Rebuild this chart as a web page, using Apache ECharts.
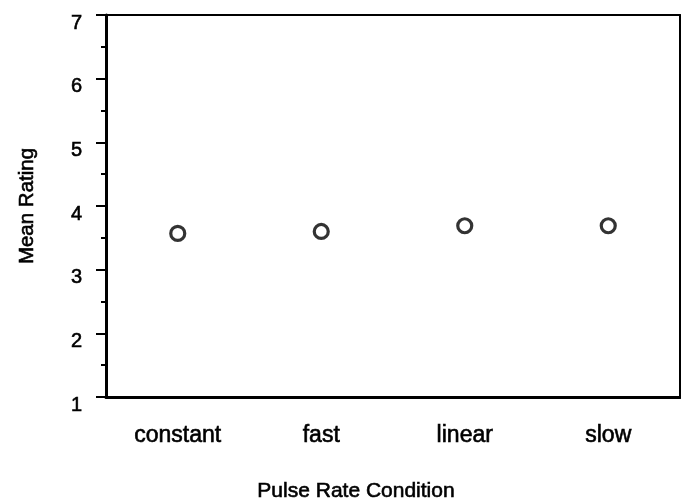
<!DOCTYPE html>
<html>
<head>
<meta charset="utf-8">
<script src="https://cdn.jsdelivr.net/npm/echarts@6/dist/echarts.min.js"></script>
<style>
  html, body { margin: 0; padding: 0; background: #fff; }
  #chart { width: 681px; height: 498px; }
</style>
</head>
<body>
<div id="chart"></div>
<script>
var conditions = ["constant", "fast", "linear", "slow"];
var meanRating = [3.57, 3.60, 3.69, 3.69];
var yTicks = [1, 2, 3, 4, 5, 6, 7];

var font = "'Liberation Sans', Arial, Helvetica, sans-serif";
// scanned original has heavy glyphs, a thin outline thickens them a bit
var ink = { color: "#000", textBorderColor: "#000", textBorderWidth: 0.6, fontFamily: font };

var chart = echarts.init(document.getElementById("chart"));

var option = {
  backgroundColor: "#fff",
  animation: false,
  grid: { left: 106, right: 1, top: 15, bottom: 101, outerBoundsMode: "none" },
  xAxis: [
    {
      type: "category",
      data: conditions,
      position: "bottom",
      name: "Pulse Rate Condition",
      nameLocation: "middle",
      nameGap: 84,
      // the original title sits left of the plot centre
      nameTextStyle: Object.assign({ fontSize: 21, padding: [0, 74, 0, 0] }, ink),
      axisLine: { lineStyle: { color: "#000", width: 3 } },
      axisTick: { alignWithLabel: true, length: 4, lineStyle: { color: "#000", width: 2 } },
      axisLabel: Object.assign({ margin: 27, fontSize: 23 }, ink),
      splitLine: { show: false }
    },
    {
      type: "category",
      data: conditions,
      position: "top",
      axisLine: { lineStyle: { color: "#000", width: 2 } },
      axisTick: { alignWithLabel: true, length: 4, lineStyle: { color: "#000", width: 2 } },
      axisLabel: { show: false },
      splitLine: { show: false }
    }
  ],
  yAxis: [
    {
      type: "value",
      min: yTicks[0],
      max: yTicks[yTicks.length - 1],
      interval: 1,
      position: "left",
      name: "Mean Rating",
      nameLocation: "middle",
      nameGap: 68,
      nameTextStyle: Object.assign({ fontSize: 20.5 }, ink),
      axisLine: { show: true, lineStyle: { color: "#000", width: 3 } },
      axisTick: { show: true, length: 10, lineStyle: { color: "#000", width: 2 } },
      minorTick: { show: true, splitNumber: 2, length: 5, lineStyle: { color: "#000", width: 2 } },
      axisLabel: Object.assign({
        margin: 24,
        fontSize: 20,
        verticalAlign: "top",
        lineHeight: 16
      }, ink),
      splitLine: { show: false }
    },
    {
      type: "value",
      min: yTicks[0],
      max: yTicks[yTicks.length - 1],
      interval: 1,
      position: "right",
      axisLine: { show: true, lineStyle: { color: "#000", width: 2 } },
      axisTick: { show: false },
      axisLabel: { show: false },
      splitLine: { show: false }
    }
  ],
  series: [
    {
      type: "scatter",
      xAxisIndex: 0,
      yAxisIndex: 0,
      data: meanRating,
      symbol: "circle",
      symbolSize: 14,
      itemStyle: { color: "#fff", borderColor: "#000", borderWidth: 3.2 }
    }
  ]
};

chart.setOption(option);
</script>
</body>
</html>
